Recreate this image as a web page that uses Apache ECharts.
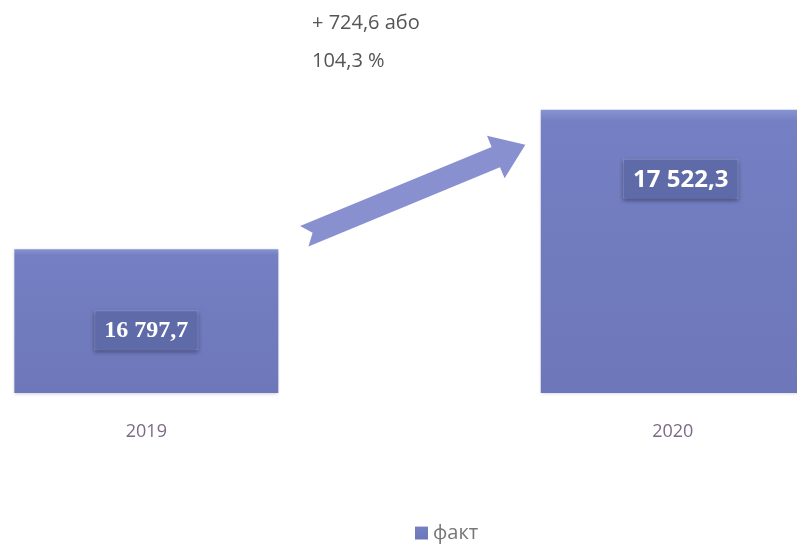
<!DOCTYPE html>
<html>
<head>
<meta charset="utf-8">
<script src="https://cdn.jsdelivr.net/npm/echarts@6/dist/echarts.min.js"></script>
<style>
  html, body { margin: 0; padding: 0; background: #fff; }
  #chart { width: 797px; height: 548px; }
</style>
</head>
<body>
<div id="chart"></div>
<script>
const years = ['2019', '2020']
const fact = [16797.7, 17522.3]
const seriesName = 'факт'
const changeText = ['+ 724,6 або', '104,3 %']

const fmt = v => v.toFixed(1).replace('.', ',').replace(/\B(?=(\d{3})+(?!\d))/g, ' ')

// bars sit at x = 0 and x = 1; the right one runs off the edge
const barData = [
  { value: [0, fact[0]], label: { distance: 62, fontFamily: 'Liberation Serif' } },
  { value: [1, fact[1]], label: { distance: 50, fontFamily: 'Open Sans', offset: [8, 0] } }
]

const chart = echarts.init(document.getElementById('chart'))

const option = {
  animation: false,
  grid: { left: 0, right: 0, top: 18, bottom: 155 },
  legend: {
    data: [seriesName],
    bottom: 0,
    left: 410,
    itemWidth: 13,
    itemHeight: 13,
    icon: 'rect',
    textStyle: { color: '#777', fontSize: 20, fontFamily: 'Open Sans' }
  },
  xAxis: {
    type: 'value',
    min: -0.278,
    max: 1.236,
    splitLine: { show: false },
    axisLine: { show: false },
    axisTick: { show: false },
    axisLabel: {
      customValues: [0, 1],
      formatter: v => years[Math.round(v)],
      margin: 30,
      color: '#7d6a86',
      fontSize: 18,
      fontFamily: 'Open Sans'
    }
  },
  yAxis: {
    type: 'value',
    min: 16050,
    max: 18000,
    show: false
  },
  series: [{
    name: seriesName,
    type: 'bar',
    data: barData,
    barWidth: 264,
    itemStyle: {
      color: new echarts.graphic.LinearGradient(0, 0, 0, 1, [
        { offset: 0, color: '#8794d2' },
        { offset: 0.04, color: '#7480c3' },
        { offset: 1, color: '#6d77ba' }
      ]),
      shadowColor: 'rgba(60,60,90,0.25)',
      shadowBlur: 3,
      shadowOffsetY: 1
    },
    label: {
      show: true,
      position: 'insideTop',
      formatter: p => fmt(p.value[1]),
      color: '#fff',
      fontSize: 24,
      fontWeight: 'bold',
      backgroundColor: '#5f6aa8',
      borderColor: '#8390cc',
      borderWidth: 1,
      padding: [8, 9, 6, 9],
      shadowColor: 'rgba(30,30,60,0.4)',
      shadowBlur: 4,
      shadowOffsetY: 2
    }
  }]
}
chart.setOption(option)

// arrow from 2019 towards 2020, placed between the two bars
function drawArrow() {
  const a = chart.convertToPixel({ gridIndex: 0 }, [0, fact[0]])
  const b = chart.convertToPixel({ gridIndex: 0 }, [1, fact[1]])
  const span = b[0] - a[0]
  const T = [a[0] + span * 0.3, a[1] - 13]
  const P = [a[0] + span * 0.72, b[1] + 35]
  const dx = P[0] - T[0], dy = P[1] - T[1]
  const len = Math.hypot(dx, dy)
  const u = [dx / len, dy / len]
  const n = [-u[1], u[0]]
  const sw = 11, hw = 23, hl = 32, notch = 9
  const pt = (base, along, across) => [base[0] + u[0] * along + n[0] * across, base[1] + u[1] * along + n[1] * across]
  const pts = [
    pt(T, 0, -sw),
    pt(T, len - hl, -sw),
    pt(T, len - hl, -hw),
    P,
    pt(T, len - hl, hw),
    pt(T, len - hl, sw),
    pt(T, 0, sw),
    pt(T, notch, 0)
  ]
  chart.setOption({
    graphic: [
      {
        type: 'polygon',
        shape: { points: pts },
        style: { fill: '#8990d0' },
        z: 10
      },
      {
        type: 'text',
        left: 312,
        top: 4,
        style: {
          text: changeText.join('\n'),
          fill: '#555',
          font: '20px "Open Sans"',
          lineHeight: 38
        }
      }
    ]
  })
}
drawArrow()
</script>
</body>
</html>
